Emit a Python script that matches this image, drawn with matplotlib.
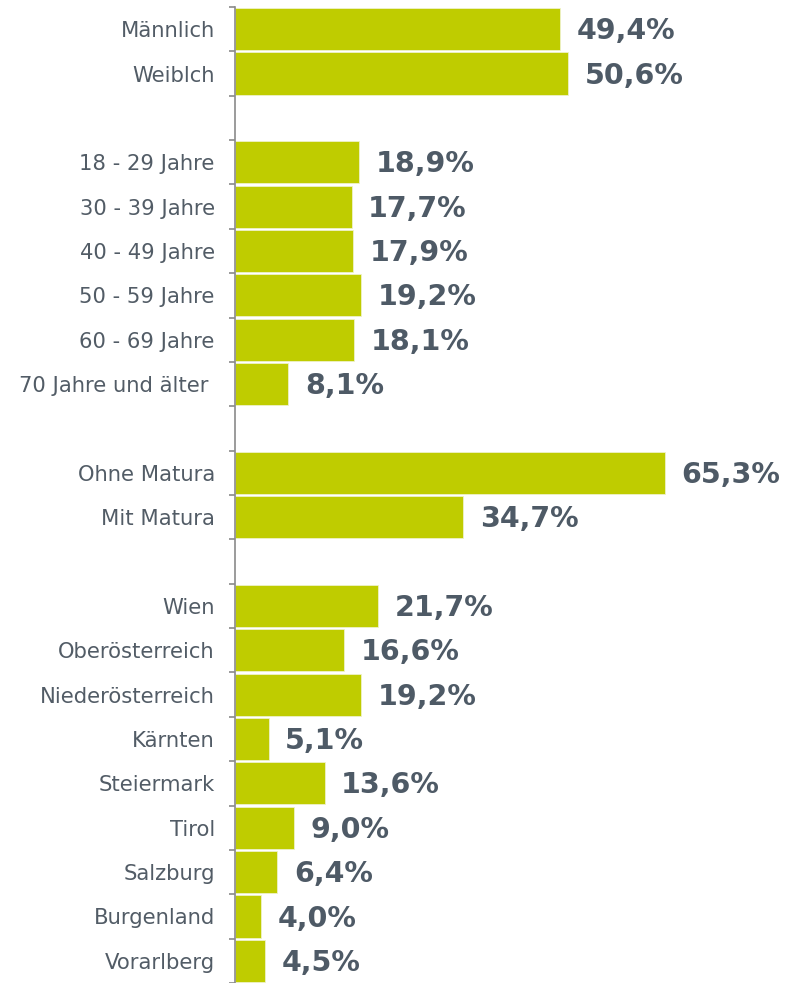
import numpy as np
import matplotlib
matplotlib.use("Agg")
import matplotlib.pyplot as plt

# DATA (None = empty spacer row)
categories = [
    "Männlich", "Weiblch", "",
    "18 - 29 Jahre", "30 - 39 Jahre", "40 - 49 Jahre", "50 - 59 Jahre",
    "60 - 69 Jahre", "70 Jahre und älter ", "",
    "Ohne Matura", "Mit Matura", "",
    "Wien", "Oberösterreich", "Niederösterreich", "Kärnten", "Steiermark",
    "Tirol", "Salzburg", "Burgenland", "Vorarlberg",
]
values = [
    49.4, 50.6, None,
    18.9, 17.7, 17.9, 19.2, 18.1, 8.1, None,
    65.3, 34.7, None,
    21.7, 16.6, 19.2, 5.1, 13.6, 9.0, 6.4, 4.0, 4.5,
]

BAR_COLOR = "#bfcc00"
VALUE_COLOR = "#4e5a66"
LABEL_COLOR = "#525c66"
AXIS_COLOR = "#8a8a8a"

fig = plt.figure(figsize=(7.85, 9.83), dpi=100)
ax = fig.add_axes([235 / 785, 0.0, 1 - 235 / 785, 1 - 7 / 983])

n = len(categories)
rows = np.arange(n)

for i, v in enumerate(values):
    if v is None:
        continue
    ax.barh(i, v, height=0.95, color=BAR_COLOR, edgecolor="#eef2c8",
            linewidth=0.6)
    ax.annotate(
        f"{v:.1f}".replace(".", ",") + "%",
        xy=(v, i),
        xytext=(12, -1.5),
        textcoords="offset points",
        va="center",
        ha="left",
        fontsize=20.5,
        fontweight="bold",
        color=VALUE_COLOR,
    )

ax.set_xlim(0, (785 - 235) / 6.585)
ax.set_ylim(n - 0.5, -0.5)

# tick marks at row boundaries, labels at row centres
ax.set_yticks(np.arange(n + 1) - 0.5)
ax.set_yticklabels([])
ax.tick_params(axis="y", which="major", length=4.5, width=1.2,
               color=AXIS_COLOR, direction="out")
ax.set_yticks(rows, categories, minor=True)
ax.tick_params(axis="y", which="minor", length=0, pad=14.5,
               labelsize=15.2, labelcolor=LABEL_COLOR)

ax.set_xticks([])
for side in ["top", "right", "bottom"]:
    ax.spines[side].set_visible(False)
ax.spines["left"].set_color(AXIS_COLOR)
ax.spines["left"].set_linewidth(1.2)

fig.savefig("out.png", dpi=100)
